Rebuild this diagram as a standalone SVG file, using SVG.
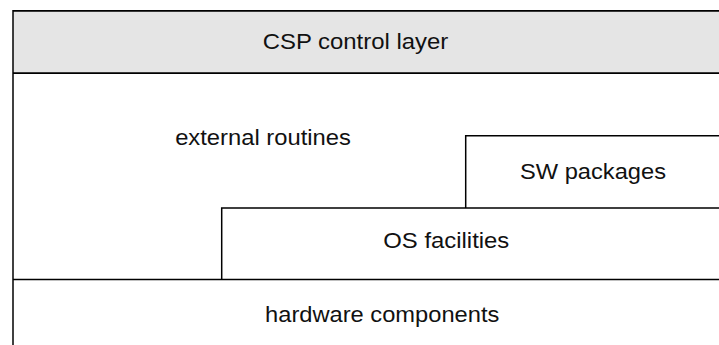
<svg xmlns="http://www.w3.org/2000/svg" width="719" height="345" viewBox="0 0 719 345">
<style>
.ln{stroke:#000;stroke-width:1.5;fill:none}
.hv{stroke:#000;stroke-width:1.7;fill:none}
.t{font-family:"Liberation Sans",Arial,sans-serif;font-size:22px;fill:#111;text-anchor:middle}
</style>
<rect x="0" y="0" width="719" height="345" fill="#fff"/>
<g id="csp-control-layer">
<rect x="13" y="11" width="720" height="62" fill="#e5e5e5"/>
<text class="t" x="355.5" y="49.3" textLength="185.6" lengthAdjust="spacingAndGlyphs">CSP control layer</text>
</g>
<g id="external-routines">
<text class="t" x="263" y="145" textLength="175.7" lengthAdjust="spacingAndGlyphs">external routines</text>
</g>
<g id="sw-packages">
<text class="t" x="593" y="179.3" textLength="146" lengthAdjust="spacingAndGlyphs">SW packages</text>
</g>
<g id="os-facilities">
<text class="t" x="446.3" y="248.3" textLength="126" lengthAdjust="spacingAndGlyphs">OS facilities</text>
</g>
<g id="hardware-components">
<text class="t" x="382.2" y="321.8" textLength="234.3" lengthAdjust="spacingAndGlyphs">hardware components</text>
</g>
<g id="connectors">
<path class="hv" d="M13 10.8H719M13 73.2H719"/>
<path class="ln" d="M13 10V345"/>
<path class="ln" d="M465.7 208V135.7H719"/>
<path class="ln" d="M221.7 279.5V208H719"/>
<path class="ln" d="M13 279.5H719"/>
</g>
</svg>
